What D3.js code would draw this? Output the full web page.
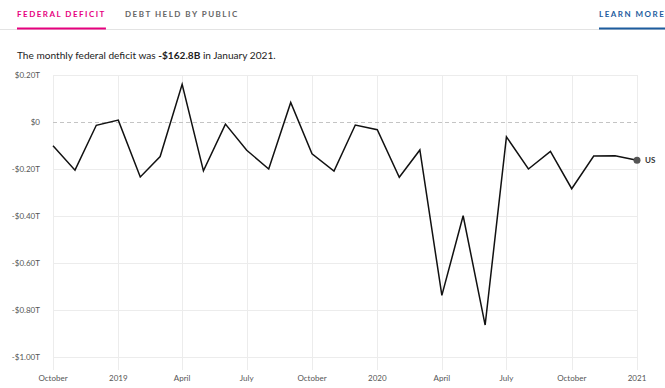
<!DOCTYPE html>
<html lang="en">
<head>
<meta charset="UTF-8">
<title>Federal Deficit</title>
<script src="https://d3js.org/d3.v7.min.js"></script>
<style>
    body { margin: 0; background: #fff; }
    * { font-family: Lato, "Open Sans", sans-serif; }
</style>
</head>
<body>
<div id="chart"></div>
<script>
// monthly federal deficit, trillions of dollars, Oct 2018 - Jan 2021
var months = ["2018-10","2018-11","2018-12","2019-01","2019-02","2019-03","2019-04",
    "2019-05","2019-06","2019-07","2019-08","2019-09","2019-10","2019-11","2019-12",
    "2020-01","2020-02","2020-03","2020-04","2020-05","2020-06","2020-07","2020-08",
    "2020-09","2020-10","2020-11","2020-12","2021-01"];
var deficit = [-0.101, -0.205, -0.014, 0.008, -0.234, -0.147, 0.160,
    -0.208, -0.009, -0.120, -0.200, 0.083, -0.135, -0.209, -0.013,
    -0.033, -0.235, -0.119, -0.738, -0.399, -0.864, -0.063, -0.200,
    -0.125, -0.284, -0.145, -0.144, -0.163];
var yTicks = [0.2, 0, -0.2, -0.4, -0.6, -0.8, -1.0];
var seriesName = "US";

var width = 665, height = 388;
var parse = d3.timeParse("%Y-%m");
var data = months.map(function(m, i) { return {date: parse(m), value: deficit[i]}; });

var svg = d3.select("#chart").append("svg")
    .attr("width", width)
    .attr("height", height);

// tabs header
svg.append("line").attr("x1", 0).attr("x2", 665).attr("y1", 29.5).attr("y2", 29.5)
    .attr("stroke", "#e3e3e3").attr("stroke-width", 1);

var tabs = [
    {label: "FEDERAL DEFICIT", x: 17, color: "#e6007e", underline: true},
    {label: "DEBT HELD BY PUBLIC", x: 125, color: "#666", underline: false},
    {label: "LEARN MORE", x: 599, color: "#1d5c9e", underline: true}
];
tabs.forEach(function(t) {
    var txt = svg.append("text")
        .attr("x", t.x).attr("y", 17)
        .attr("fill", t.color)
        .style("font-size", "8px")
        .style("font-weight", "700")
        .style("letter-spacing", "1.5px")
        .text(t.label);
    if (t.underline) {
        var w = txt.node().getComputedTextLength();
        svg.append("rect").attr("x", t.x).attr("y", 27.5)
            .attr("width", w).attr("height", 2).attr("fill", t.color);
    }
});

// subtitle
var sub = svg.append("text").attr("x", 17).attr("y", 59)
    .attr("fill", "#222").style("font-size", "10.1px");
sub.append("tspan").text("The monthly federal deficit was ");
sub.append("tspan").style("font-weight", "700").text("-$162.8B");
sub.append("tspan").text(" in January 2021.");

// scales
var x = d3.scaleTime()
    .domain([parse("2018-10"), parse("2021-01")])
    .range([53, 637]);
var y = d3.scaleLinear()
    .domain([-1.0, 0.2])
    .range([357, 75]);

var xTicks = d3.timeMonth.every(3).range(parse("2018-10"), d3.timeMonth.offset(parse("2021-01"), 1));

// grid
var g = svg.append("g");
g.selectAll(".vgrid").data(xTicks).enter().append("line")
    .attr("x1", function(d) { return Math.round(x(d)) + 0.5; })
    .attr("x2", function(d) { return Math.round(x(d)) + 0.5; })
    .attr("y1", 75).attr("y2", 370)
    .attr("stroke", "#ececec");
g.selectAll(".hgrid").data(yTicks.filter(function(d) { return d !== 0; })).enter().append("line")
    .attr("x1", 53).attr("x2", 637)
    .attr("y1", function(d) { return Math.round(y(d)) + 0.5; })
    .attr("y2", function(d) { return Math.round(y(d)) + 0.5; })
    .attr("stroke", "#ececec");
g.append("line")
    .attr("x1", 53).attr("x2", 637)
    .attr("y1", Math.round(y(0)) + 0.5).attr("y2", Math.round(y(0)) + 0.5)
    .attr("stroke", "#c4c4c4").attr("stroke-dasharray", "4,3");

// y labels
function fmtY(d) {
    if (d === 0) return "$0";
    return (d < 0 ? "-" : "") + "$" + Math.abs(d).toFixed(2) + "T";
}
svg.selectAll(".ylab").data(yTicks).enter().append("text")
    .attr("x", 40).attr("y", function(d) { return y(d); })
    .attr("dy", "0.35em")
    .attr("text-anchor", "end")
    .attr("fill", "#555")
    .style("font-size", "8px")
    .text(fmtY);

// x labels
var fmtMonth = d3.timeFormat("%B"), fmtYear = d3.timeFormat("%Y");
svg.selectAll(".xlab").data(xTicks).enter().append("text")
    .attr("x", function(d) { return x(d); })
    .attr("y", 381)
    .attr("text-anchor", "middle")
    .attr("fill", "#555")
    .style("font-size", "8px")
    .text(function(d) { return d.getMonth() === 0 ? fmtYear(d) : fmtMonth(d); });

// line
var line = d3.line()
    .x(function(d) { return x(d.date); })
    .y(function(d) { return y(d.value); });
svg.append("path").datum(data)
    .attr("d", line)
    .attr("fill", "none")
    .attr("stroke", "#111")
    .attr("stroke-width", 1.5)
    .attr("stroke-linejoin", "miter");

var last = data[data.length - 1];
svg.append("circle")
    .attr("cx", x(last.date)).attr("cy", y(last.value))
    .attr("r", 3.5).attr("fill", "#555");
svg.append("text")
    .attr("x", x(last.date) + 8).attr("y", y(last.value))
    .attr("dy", "0.35em")
    .attr("fill", "#333")
    .style("font-size", "8px")
    .style("font-weight", "700")
    .text(seriesName);
</script>
</body>
</html>
